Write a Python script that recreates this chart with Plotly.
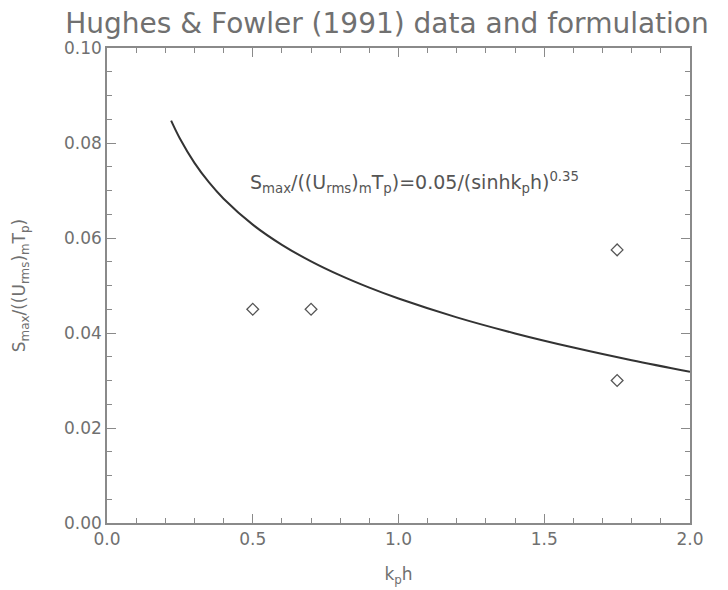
import plotly.graph_objects as go

# Data
obs_kph = [0.5, 0.7, 1.75, 1.75]
obs_ratio = [0.045, 0.045, 0.0575, 0.030]

curve_kph = [0.22, 0.25, 0.30, 0.35, 0.40, 0.50, 0.60, 0.70, 0.80, 0.90,
             1.00, 1.20, 1.40, 1.60, 1.80, 2.00]
curve_ratio = [0.08470, 0.08094, 0.07581, 0.07169, 0.06827, 0.06281, 0.05856,
               0.05508, 0.05212, 0.04954, 0.04725, 0.04329, 0.03991, 0.03694,
               0.03427, 0.03185]

x_ticks = [0.0, 0.5, 1.0, 1.5, 2.0]
x_tick_labels = ["0.0", "0.5", "1.0", "1.5", "2.0"]
y_ticks = [0.00, 0.02, 0.04, 0.06, 0.08, 0.10]
y_tick_labels = ["0.00", "0.02", "0.04", "0.06", "0.08", "0.10"]

TXT = "#707070"
AX = "#8a8a8a"
FONT = "DejaVu Sans"

fig = go.Figure()
fig.add_trace(go.Scatter(x=curve_kph, y=curve_ratio, mode="lines",
                         line=dict(color="#333333", width=2, shape="spline"),
                         showlegend=False, hoverinfo="skip"))
fig.add_trace(go.Scatter(x=obs_kph, y=obs_ratio, mode="markers",
                         marker=dict(symbol="diamond-open", size=9,
                                     color="#555555", line=dict(width=1.3)),
                         showlegend=False))

axis_common = dict(showgrid=False, zeroline=False, showline=True, linecolor=AX,
                   linewidth=1.5, mirror="allticks", ticks="inside",
                   tickcolor=AX, ticklen=9, tickwidth=1.2, automargin=False,
                   tickfont=dict(family=FONT, size=17, color=TXT))

fig.update_xaxes(range=[0, 2], tickvals=x_ticks, ticktext=x_tick_labels,
                 minor=dict(dtick=0.1, ticks="inside", ticklen=5, tickcolor=AX, tickwidth=1.2),
                 title=dict(text="k<sub>p</sub>h", font=dict(family=FONT, size=17, color=TXT),
                            standoff=20),
                 **axis_common)
fig.update_yaxes(range=[0, 0.1], tickvals=y_ticks, ticktext=y_tick_labels,
                 minor=dict(dtick=0.005, ticks="inside", ticklen=5, tickcolor=AX, tickwidth=1.2),
                 title=dict(text="S<sub>max</sub>/((U<sub>rms</sub>)<sub>m</sub>T<sub>p</sub>)",
                            font=dict(family=FONT, size=17, color=TXT), standoff=34),
                 **axis_common)

fig.add_annotation(x=1.055, y=0.0716, xref="x", yref="y", showarrow=False,
                   text="S<sub>max</sub>/((U<sub>rms</sub>)<sub>m</sub>T<sub>p</sub>)=0.05/(sinhk<sub>p</sub>h)<sup>0.35</sup>",
                   font=dict(family=FONT, size=19, color="#555555"))

fig.update_layout(
    width=728, height=590,
    margin=dict(l=107, r=38, t=48, b=67),
    paper_bgcolor="white", plot_bgcolor="white",
    title=dict(text="Hughes &amp; Fowler (1991) data and formulation",
               x=387 / 728, xanchor="center", y=1 - 23 / 590, yanchor="middle",
               font=dict(family=FONT, size=28, color=TXT)),
)

fig.write_html("out.html", config={"displayModeBar": False},
               post_script="document.body.style.margin='0';document.body.style.overflow='hidden';")
